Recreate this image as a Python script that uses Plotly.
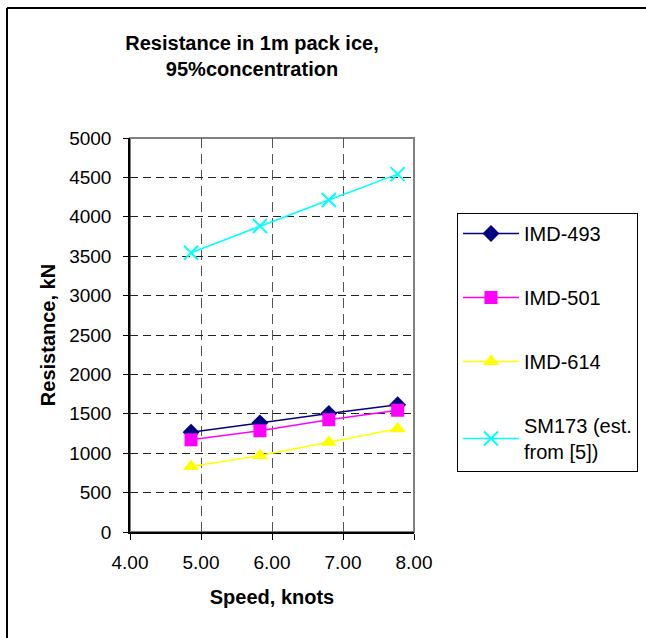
import plotly.graph_objects as go

speed = [4.86, 5.83, 6.80, 7.77]
imd493 = [1265, 1385, 1505, 1615]
imd501 = [1170, 1285, 1425, 1545]
imd614 = [830, 970, 1140, 1310]
sm173 = [3543, 3883, 4214, 4542]

names = ["IMD-493", "IMD-501", "IMD-614", "SM173 (est.<br>from [5])"]
colors = ["#000080", "#FF00FF", "#FFFF00", "#00FFFF"]
symbols = ["diamond", "square", "triangle-up", "x-thin-open"]
sizes = [13, 13, 14, 14]
series = [imd493, imd501, imd614, sm173]

W, H = 646, 638
L, R, T, B = 130, 414, 138, 532

fig = go.Figure()
for i, (n, c, s, sz, ys) in enumerate(zip(names, colors, symbols, sizes, series)):
    fig.add_trace(go.Scatter(
        x=speed, y=ys, mode="lines+markers", name=n,
        line=dict(color=c, width=1.5),
        marker=dict(symbol=s, size=sz, color=c, line=dict(color=c, width=2 if s == "x-thin-open" else 0)),
        legendgroup=str(i),
    ))

font = "Liberation Sans, Arial, sans-serif"
pw, ph = R - L, B - T

def px2paper_x(px):
    return (px - L) / pw

def px2paper_y(py):
    return (B - py) / ph

fig.update_layout(
    width=W, height=H,
    margin=dict(l=L, r=W - R, t=T, b=H - B, pad=0),
    paper_bgcolor="white", plot_bgcolor="white",
    font=dict(family=font, color="black", size=19),
    title=dict(text="<b>Resistance in 1m pack ice,<br>95%concentration</b>",
               x=252 / W, xanchor="center", y=1 - 50 / H, yanchor="middle",
               font=dict(size=20, family=font)),
    showlegend=True,
    legend=dict(xref="container", yref="container", x=457 / W, y=1 - 213 / H,
                xanchor="left", yanchor="top",
                bordercolor="black", borderwidth=1, bgcolor="white",
                font=dict(size=20, family=font), tracegroupgap=35,
                itemwidth=56),
    xaxis=dict(range=[4, 8], tickvals=[4, 5, 6, 7, 8], tickformat=".2f",
               showgrid=True, gridcolor="#555555", griddash="10px,6px", gridwidth=1,
               showline=True, linecolor="black", linewidth=1.5,
               ticks="outside", ticklen=6, tickcolor="black", ticklabelstandoff=6,
               zeroline=False, tickfont=dict(size=19),
               title=dict(text="<b>Speed, knots</b>", font=dict(size=20), standoff=18)),
    yaxis=dict(range=[0, 5000], dtick=500,
               showgrid=True, gridcolor="#222222", griddash="8px,5px", gridwidth=1,
               showline=True, linecolor="black", linewidth=1.5,
               ticks="outside", ticklen=5, tickcolor="black", ticklabelstandoff=8,
               zeroline=False, tickfont=dict(size=19),
               title=dict(text="<b>Resistance, kN</b>", font=dict(size=20), standoff=8)),
    shapes=[
        dict(type="rect", xref="paper", yref="paper", x0=0, x1=1, y0=0, y1=1,
             line=dict(color="#808080", width=2), layer="below"),
        dict(type="line", xref="paper", yref="paper",
             x0=px2paper_x(7), x1=px2paper_x(7), y0=px2paper_y(8), y1=px2paper_y(660),
             line=dict(color="black", width=2)),
        dict(type="line", xref="paper", yref="paper",
             x0=px2paper_x(7), x1=px2paper_x(660), y0=px2paper_y(8), y1=px2paper_y(8),
             line=dict(color="black", width=2)),
    ],
)

fig.write_html("out.html")
